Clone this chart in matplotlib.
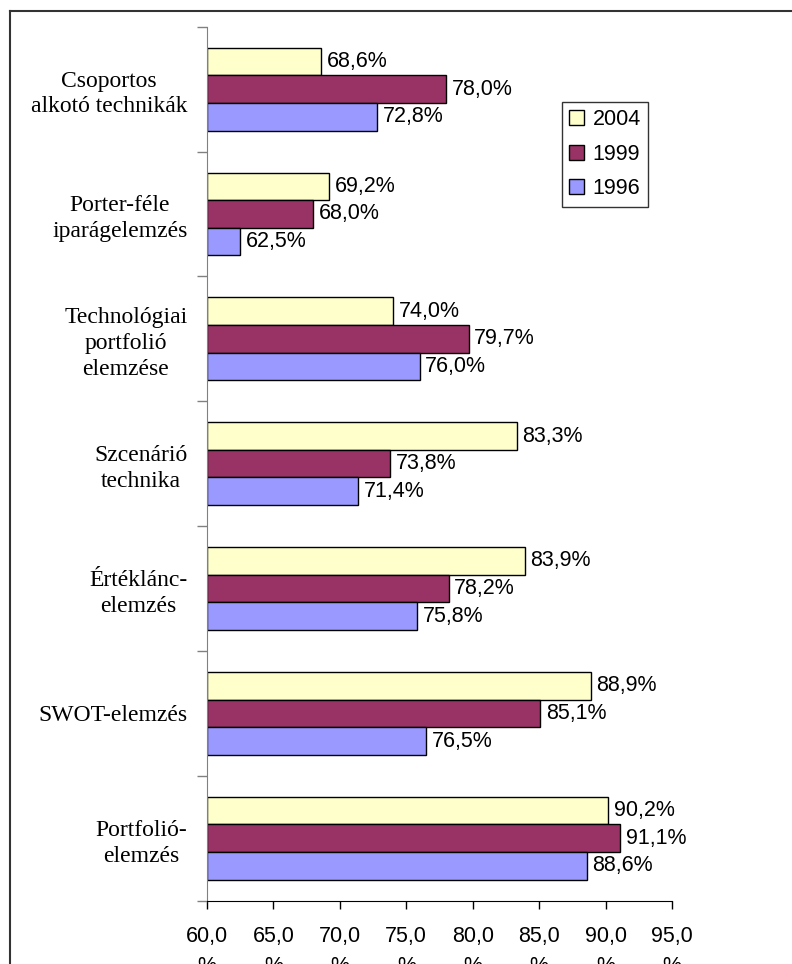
import matplotlib
matplotlib.use('Agg')
import matplotlib.pyplot as plt
from matplotlib.lines import Line2D
import numpy as np

# Methods, top to bottom
methods = ['Csoportos\nalkotó technikák',
           'Porter-féle\niparágelemzés',
           'Technológiai\nportfolió\nelemzése',
           'Szcenárió\ntechnika',
           'Értéklánc-\nelemzés',
           'SWOT-elemzés',
           'Portfolió-\nelemzés']

years = ['2004', '1999', '1996']
vals2004 = [68.6, 69.2, 74.0, 83.3, 83.9, 88.9, 90.2]
vals1999 = [78.0, 68.0, 79.7, 73.8, 78.2, 85.1, 91.1]
vals1996 = [72.8, 62.5, 76.0, 71.4, 75.8, 76.5, 88.6]
xticks = [60, 65, 70, 75, 80, 85, 90, 95]

colors = ['#FFFFCC', '#993366', '#9999FF']
series = [vals2004, vals1999, vals1996]

sans = 'Liberation Sans'
serif = 'Liberation Serif'

fig = plt.figure(figsize=(7.92, 9.64), dpi=100)
ax = fig.add_axes([207/792, 1 - 900.7/964, 465/792, 874/964])

pos = np.arange(len(methods))
h = 0.221
offsets = [-h, 0, h]

for vals, col, off, yr in zip(series, colors, offsets, years):
    bars = ax.barh(pos + off, np.array(vals) - 60, left=60, height=h,
                   color=col, edgecolor='black', linewidth=1.0, label=yr)
    for b, v in zip(bars, vals):
        ax.annotate(('%.1f%%' % v).replace('.', ','),
                    xy=(v, b.get_y() + h / 2), xytext=(4, 0),
                    textcoords='offset points', va='center', ha='left',
                    fontsize=15.5, family=sans, color='black')

ax.set_xlim(60, 95)
ax.set_ylim(len(methods) - 0.5, -0.5)

# category separators as major ticks, labels on minor ticks
ax.set_yticks(np.arange(len(methods) + 1) - 0.5)
ax.set_yticklabels([])
ax.set_yticks(pos, minor=True)
ax.set_yticklabels(methods, minor=True, fontsize=17, family=serif,
                   linespacing=1.3, multialignment='center')
ax.tick_params(axis='y', which='major', direction='out', length=7, width=1, color='#808080')
ax.tick_params(axis='y', which='minor', length=0, pad=14)

ax.set_xticks(xticks)
ax.set_xticklabels([('%.1f' % t).replace('.', ',') + '\n%' for t in xticks],
                   fontsize=15.5, family=sans, linespacing=1.6)
ax.tick_params(axis='x', direction='out', length=6, width=1, pad=12)

ax.spines['top'].set_visible(False)
ax.spines['right'].set_visible(False)
ax.spines['left'].set_color('#808080')
ax.spines['bottom'].set_color('black')

leg = ax.legend(loc='upper left', bbox_to_anchor=(0.763, 0.914), borderaxespad=0,
                prop={'family': sans, 'size': 15.5}, frameon=True, fancybox=False,
                handlelength=0.68, handleheight=0.68, handletextpad=0.4,
                labelspacing=0.62, borderpad=0.35)
leg.get_frame().set_edgecolor('black')
leg.get_frame().set_linewidth(1.0)

# outer frame of the chart area
fig.add_artist(Line2D([10/792, 10/792], [0, 1 - 11/964], color='#333333', lw=1.5))
fig.add_artist(Line2D([10/792, 1], [1 - 11/964, 1 - 11/964], color='#333333', lw=1.5))

fig.savefig('out.png', dpi=100)
